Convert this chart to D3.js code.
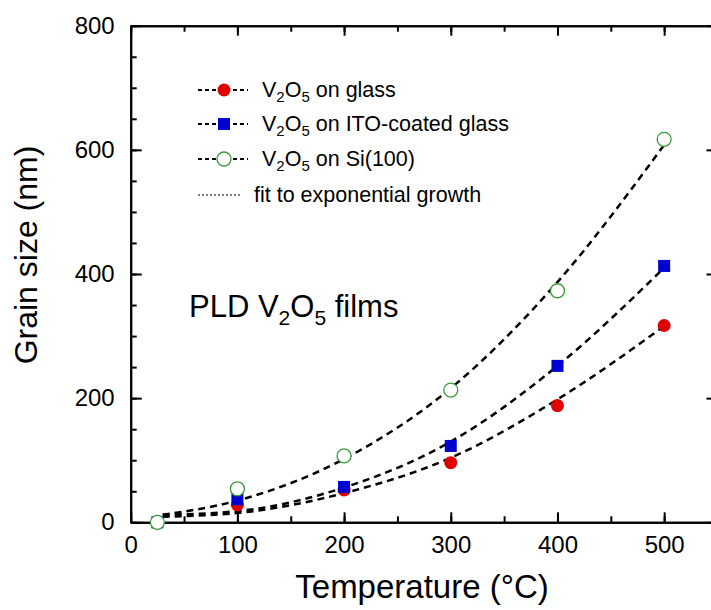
<!DOCTYPE html>
<html>
<head>
<meta charset="utf-8">
<script src="https://cdn.jsdelivr.net/npm/d3@7"></script>
<style>
  html, body { margin: 0; padding: 0; background: #fff; }
  svg { display: block; }
  text { font-family: "Liberation Sans", Arial, Helvetica, sans-serif; fill: #000; }
</style>
</head>
<body>
<svg id="chart" width="711" height="610"></svg>
<script>
// Measured grain sizes (nm) against deposition temperature (°C)
const temperatures = [25, 100, 200, 300, 400, 500];
const grainGlass   = [0, 28, 52, 96, 188, 317];
const grainITO     = [0, 37, 57, 123, 252, 413];
const grainSi      = [0, 54, 107, 213, 373, 617];

// Exponential-growth fit curves, sampled along temperature
const fitTemperatures = [30, 100, 200, 300, 400, 500];
const fitGlass = [9, 15, 47, 104, 198, 316];
const fitITO   = [12, 18, 56, 130, 252, 410];
const fitSi    = [12, 35, 102, 216, 387, 608];

// Axis ticks and labels
const xTickLabels = [0, 100, 200, 300, 400, 500];
const yTickLabels = [0, 200, 400, 600, 800];
const seriesNames = ["V_2O_5 on glass", "V_2O_5 on ITO-coated glass", "V_2O_5 on Si(100)"];
const fitName = "fit to exponential growth";
const xTitle = "Temperature (°C)";
const yTitle = "Grain size (nm)";
const annotation = "PLD V_2O_5 films";

const svg = d3.select("#chart");

const plot = { left: 130.7, right: 717.5, top: 25.7, bottom: 522.3 };
const x = d3.scaleLinear().domain([0, 550]).range([plot.left, plot.right]);
const y = d3.scaleLinear().domain([0, 800]).range([plot.bottom, plot.top]);

const minorX = d3.range(0, 551, 50);
const minorY = d3.range(0, 801, 50);

function styleAxis(g) {
  g.select(".domain").attr("stroke", "#000").attr("stroke-width", 2);
  g.selectAll(".tick line").attr("stroke", "#000").attr("stroke-width", 2);
}

// Minor ticks on all four sides
svg.append("g").attr("transform", `translate(0,${plot.bottom})`)
  .call(d3.axisBottom(x).tickValues(minorX).tickSize(-6).tickSizeOuter(0).tickFormat(""))
  .call(styleAxis);
svg.append("g").attr("transform", `translate(0,${plot.top})`)
  .call(d3.axisTop(x).tickValues(minorX).tickSize(-6).tickSizeOuter(0).tickFormat(""))
  .call(styleAxis);
svg.append("g").attr("transform", `translate(${plot.left},0)`)
  .call(d3.axisLeft(y).tickValues(minorY).tickSize(-6).tickSizeOuter(0).tickFormat(""))
  .call(styleAxis);
svg.append("g").attr("transform", `translate(${plot.right},0)`)
  .call(d3.axisRight(y).tickValues(minorY).tickSize(-6).tickSizeOuter(0).tickFormat(""))
  .call(styleAxis);

// Major ticks with labels
const xAxis = svg.append("g").attr("transform", `translate(0,${plot.bottom})`)
  .call(d3.axisBottom(x).tickValues(xTickLabels).tickSize(-10).tickSizeOuter(0).tickPadding(14).tickFormat(d3.format("d")))
  .call(styleAxis);
xAxis.selectAll(".tick text").attr("font-size", 24).attr("font-family", null);

const yAxis = svg.append("g").attr("transform", `translate(${plot.left},0)`)
  .call(d3.axisLeft(y).tickValues(yTickLabels).tickSize(-11).tickSizeOuter(0).tickPadding(16).tickFormat(d3.format("d")))
  .call(styleAxis);
yAxis.selectAll(".tick text").attr("font-size", 24).attr("font-family", null);

svg.append("g").attr("transform", `translate(${plot.right},0)`)
  .call(d3.axisRight(y).tickValues(yTickLabels).tickSize(-11).tickSizeOuter(0).tickFormat(""))
  .call(styleAxis);
svg.append("g").attr("transform", `translate(0,${plot.top})`)
  .call(d3.axisTop(x).tickValues(xTickLabels).tickSize(-10).tickSizeOuter(0).tickFormat(""))
  .call(styleAxis);

// Text with "_n" subscripts rendered as lowered, smaller tspans
function richText(sel, str, subSize, shift) {
  const parts = str.split(/_(\d)/);
  parts.forEach((p, i) => {
    if (p === "") return;
    const t = sel.append("tspan").text(p);
    if (i % 2 === 1) {
      t.attr("font-size", subSize).attr("dy", shift);
    } else if (i > 0) {
      t.attr("dy", -shift);
    }
  });
}

// Axis titles
svg.append("text")
  .attr("x", 422).attr("y", 598)
  .attr("text-anchor", "middle").attr("font-size", 33)
  .text(xTitle);
svg.append("text")
  .attr("transform", `translate(37,255) rotate(-90)`)
  .attr("text-anchor", "middle").attr("font-size", 32)
  .text(yTitle);

// Fit curves
const fitLine = d3.line()
  .x((d, i) => x(fitTemperatures[i]))
  .y(d => y(d))
  .curve(d3.curveMonotoneX);

[fitGlass, fitITO, fitSi].forEach(f => {
  svg.append("path")
    .attr("d", fitLine(f))
    .attr("fill", "none")
    .attr("stroke", "#000")
    .attr("stroke-width", 2.5)
    .attr("stroke-dasharray", "7,5");
});

// Data markers
const colors = { red: "#e00000", blue: "#0000d0", green: "#3a9a3a" };
function drawCircleFilled(g, cx, cy) {
  g.append("circle").attr("cx", cx).attr("cy", cy).attr("r", 6.5).attr("fill", colors.red);
}
function drawSquare(g, cx, cy) {
  g.append("rect").attr("x", cx - 6).attr("y", cy - 6).attr("width", 12).attr("height", 12).attr("fill", colors.blue);
}
function drawOpenCircle(g, cx, cy) {
  g.append("circle").attr("cx", cx).attr("cy", cy).attr("r", 7)
    .attr("fill", "#fff").attr("stroke", colors.green).attr("stroke-width", 1.3);
}

const markers = svg.append("g");
temperatures.forEach((t, i) => drawCircleFilled(markers, x(t), y(grainGlass[i])));
temperatures.forEach((t, i) => drawSquare(markers, x(t), y(grainITO[i])));
temperatures.forEach((t, i) => drawOpenCircle(markers, x(t), y(grainSi[i])));

// Legend
const legendRows = [90, 124, 159];
const legendDraw = [drawCircleFilled, drawSquare, drawOpenCircle];
const legend = svg.append("g");
seriesNames.forEach((name, i) => {
  const ry = legendRows[i];
  legend.append("line").attr("x1", 198).attr("x2", 248).attr("y1", ry).attr("y2", ry)
    .attr("stroke", "#000").attr("stroke-width", 2).attr("stroke-dasharray", "4,3");
  legendDraw[i](legend, 224, ry);
  const t = legend.append("text").attr("x", 262).attr("y", ry + 7).attr("font-size", 21.5);
  richText(t, name, 15, 5);
});
legend.append("line").attr("x1", 198).attr("x2", 242).attr("y1", 195).attr("y2", 195)
  .attr("stroke", "#000").attr("stroke-width", 1).attr("stroke-dasharray", "2,2");
legend.append("text").attr("x", 254).attr("y", 202).attr("font-size", 21.5).text(fitName);

// Annotation
const ann = svg.append("text").attr("x", 189).attr("y", 317).attr("font-size", 31);
richText(ann, annotation, 21, 8);
</script>
</body>
</html>
